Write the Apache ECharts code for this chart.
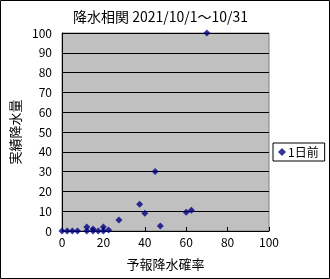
<!DOCTYPE html>
<html><head><meta charset="utf-8">
<script src="https://cdn.jsdelivr.net/npm/echarts@6/dist/echarts.min.js"></script>
<style>html,body{margin:0;padding:0;background:#fff}#c{width:330px;height:279px}</style>
</head><body><div id="c"></div>
<script>
const forecastProb = [0, 2.5, 5, 7.5, 12, 12, 15, 15, 17.5, 20, 20, 22.5, 27.5, 37.5, 40, 45, 47.5, 60, 62.5, 70];
const actualRain   = [0, 0, 0, 0, 0, 2, 1, 0, 0, 0, 2, 0.5, 5.5, 13.5, 9, 30, 2.5, 9.5, 10.5, 100];
const seriesName = '1日前';
const titleText = '降水相関 2021/10/1～10/31';
const xName = '予報降水確率';
const yName = '実績降水量';

const font = '"Noto Sans CJK JP", sans-serif';
const chart = echarts.init(document.getElementById('c'), null, {renderer:'canvas'});
chart.setOption({
  animation:false,
  backgroundColor:'#fff',
  graphic:[{type:'rect', shape:{x:0.5,y:0.5,width:329,height:278}, style:{fill:null, stroke:'#000', lineWidth:1}, silent:true}],
  title:{text:titleText, left:68, top:5, textStyle:{fontFamily:font, fontSize:14, fontWeight:'normal', color:'#000'}},
  legend:{data:[{name:seriesName, icon:'diamond'}], left:273, top:143, orient:'vertical', itemWidth:8, itemHeight:8, itemGap:2,
    padding:[3,6,3,5], borderColor:'#000', borderWidth:1, textStyle:{fontFamily:font, fontSize:12, color:'#000', padding:[0,0,0,-3]}},
  grid:{left:62, right:61, top:33, bottom:48, show:true, backgroundColor:'#c0c0c0', borderColor:'#808080', borderWidth:1},
  xAxis:{type:'value', min:0, max:100, interval:20, name:xName, nameLocation:'middle', nameGap:27,
    nameTextStyle:{fontFamily:font, fontSize:13, color:'#000'},
    axisLine:{show:true, lineStyle:{color:'#000'}}, axisTick:{show:true, inside:true, length:4, lineStyle:{color:'#000'}},
    axisLabel:{fontFamily:font, fontSize:12, color:'#000', margin:5}, splitLine:{show:false}},
  yAxis:{type:'value', min:0, max:100, interval:10, name:yName, nameLocation:'middle', nameGap:37, nameRotate:90,
    nameTextStyle:{fontFamily:font, fontSize:13, color:'#000'},
    axisLine:{show:true, lineStyle:{color:'#000'}}, axisTick:{show:false},
    axisLabel:{fontFamily:font, fontSize:12, color:'#000', margin:10}, splitLine:{show:true, lineStyle:{color:'#000', width:1}}},
  series:[{name:seriesName, type:'scatter', symbol:'diamond', symbolSize:7, itemStyle:{color:'#000080'},
    data: forecastProb.map((x,i)=>[x, actualRain[i]])}]
});
</script></body></html>
